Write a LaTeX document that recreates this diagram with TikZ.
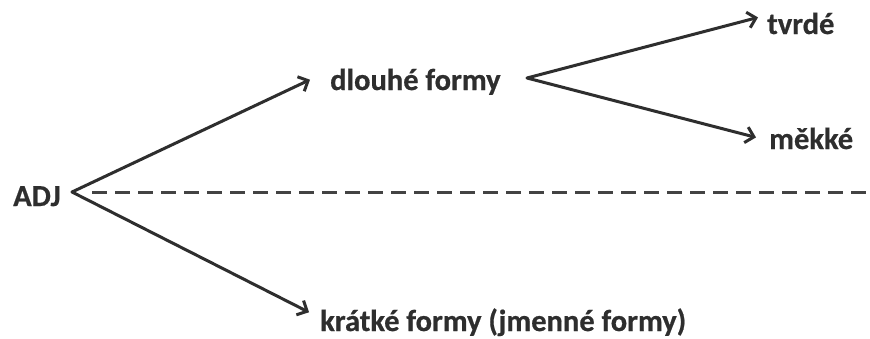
\documentclass[tikz,border=0pt]{standalone}
\usepackage{fontspec}
\setmainfont{Carlito}[BoldFeatures={FakeBold=0.6}]
\usetikzlibrary{arrows.meta}
\definecolor{ink}{HTML}{2E2E2E}
\begin{document}
\begin{tikzpicture}[x=1pt,y=-1pt,
  lbl/.style={inner sep=0pt, anchor=base west, text=ink,
    font=\fontsize{30.5}{36}\selectfont\bfseries},
  arr/.style={draw=ink, line width=3pt, line cap=round,
    -{Straight Barb[length=8pt,width=16pt,line width=3pt]}},
  guide/.style={draw=ink!90, line width=3pt, dash pattern=on 15pt off 8pt}]
  \useasboundingbox (0,0) rectangle (870,338);
  \fill[white] (0,0) rectangle (870,338);

  % labels
  \node[lbl] (adj) at (13,206) {ADJ};
  \node[lbl] (dlouhe) at (330,90) {dlouhé formy};
  \node[lbl] (tvrde) at (767,34) {tvrdé};
  \node[lbl] (mekke) at (769,149) {měkké};
  \node[lbl] (kratke) at (320,331) {krátké formy (jmenné formy)};

  % branching points and the free end of the dividing line
  \coordinate (fan) at (72,192);
  \coordinate (fan2) at (527,78);
  \coordinate (edge) at (870,192);

  % dividing line
  \draw[guide] (92,192) -- (edge);

  % branches
  \draw[arr] (fan) -- ([xshift=-20pt,yshift=2pt]dlouhe.west);
  \draw[arr] (fan) -- ([xshift=-11pt,yshift=10pt]kratke.west);
  \draw[arr] (fan2) -- ([xshift=-9pt,yshift=6pt]tvrde.west);
  \draw[arr] (fan2) -- ([xshift=-13pt,yshift=1pt]mekke.west);
\end{tikzpicture}
\end{document}
